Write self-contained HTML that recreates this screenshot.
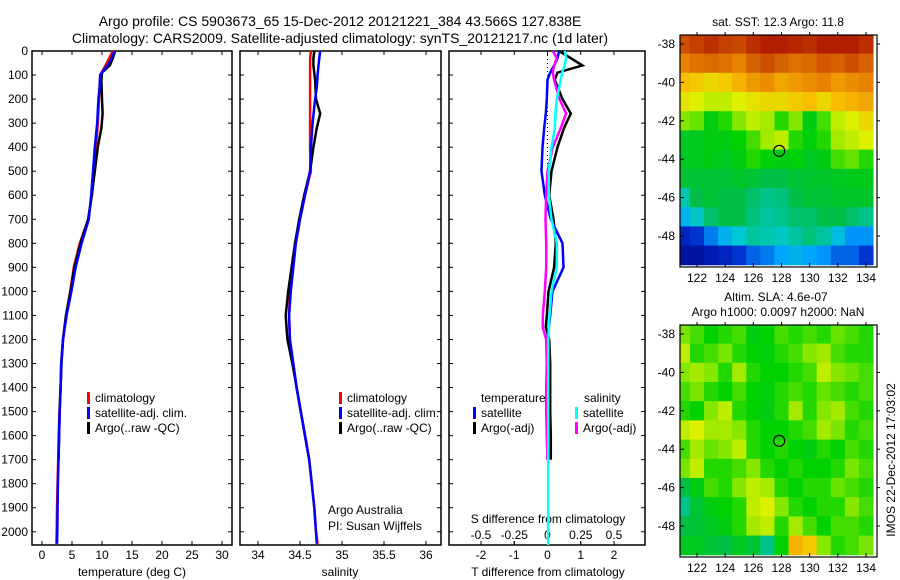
<!DOCTYPE html>
<html><head><meta charset="utf-8"><style>
body{margin:0;background:#fff;}
svg{display:block;font-family:"Liberation Sans",sans-serif;}
</style></head><body>
<svg id="fig" width="900" height="580" xmlns="http://www.w3.org/2000/svg">
<text x="340" y="26" font-size="14" text-anchor="middle">Argo profile: CS 5903673_65 15-Dec-2012 20121221_384 43.566S 127.838E</text>
<text x="340" y="43" font-size="14" text-anchor="middle">Climatology: CARS2009. Satellite-adjusted climatology: synTS_20121217.nc (1d later)</text>
<g id="g"></g>
</svg>
<script>
// ---- data ----
const depthsT = [0,30,60,100,150,200,300,400,500,600,700,800,900,1000,1100,1200,1300,1400,1500,1600,1700,1800,1900,2000,2050];
const tempClim = [11.8,11.2,10.6,9.7,9.6,9.5,9.3,9.0,8.7,8.3,7.7,6.3,5.3,4.7,4.0,3.5,3.2,3.1,2.9,2.8,2.7,2.6,2.5,2.45,2.4];
const tempSat  = [12.1,11.6,10.9,9.7,9.6,9.4,9.2,8.8,8.5,8.2,7.8,6.6,5.6,4.9,4.1,3.5,3.2,3.1,2.95,2.85,2.75,2.65,2.6,2.55,2.5];
const depthsA = [0,30,60,90,120,200,260,320,400,500,600,700,800,900,1000,1100,1200,1300,1400,1500,1600,1700];
const tempArgo = [12.2,11.8,11.3,10.0,9.9,10.0,10.1,9.9,9.3,8.8,8.3,7.7,6.4,5.4,4.75,4.0,3.5,3.25,3.1,2.95,2.85,2.75];
const salClim = [34.63,34.62,34.62,34.62,34.62,34.62,34.62,34.62,34.63,34.56,34.5,34.45,34.42,34.38,34.37,34.38,34.42,34.46,34.51,34.56,34.61,34.64,34.67,34.69,34.71];
const salSat  = [34.74,34.73,34.72,34.71,34.70,34.68,34.65,34.63,34.62,34.56,34.5,34.45,34.42,34.39,34.37,34.38,34.42,34.46,34.51,34.56,34.61,34.64,34.67,34.69,34.7];
const salArgo = [34.67,34.66,34.66,34.67,34.68,34.69,34.74,34.70,34.66,34.62,34.55,34.49,34.44,34.40,34.36,34.33,34.35,34.41,34.46,34.51,34.56,34.61];
const depthsD = [0,30,60,90,120,200,260,320,400,500,600,700,800,900,1000,1100,1150,1200,1300,1400,1500,1600,1700];
const tdiffSat  = [0.35,0.3,0.2,0.08,0,-0.02,-0.05,-0.1,-0.15,-0.18,-0.08,0.1,0.45,0.48,0.15,0.08,0.04,0,0,0,0,0,0];
const tdiffArgo = [0.35,0.7,1.05,0.3,0.22,0.45,0.7,0.5,0.3,0.12,0.05,0.18,0.25,0.2,0.03,-0.02,-0.05,0.05,0.08,0.08,0.08,0.1,0.1];
const sdiffSat  = [0.13,0.14,0.13,0.11,0.1,0.07,0.06,0.055,0.03,0.01,0.01,0.03,0.07,0.07,0.03,0.015,0.01,0.005,0.005,0.005,0.005,0.005,0.005];
const sdiffArgo = [0.04,0.07,0.05,0.04,0.05,0.09,0.14,0.1,0.04,0,-0.01,-0.015,-0.01,-0.01,-0.02,-0.035,-0.035,-0.01,-0.005,-0.01,-0.01,-0.005,0];
const depthTicks = [0,100,200,300,400,500,600,700,800,900,1000,1100,1200,1300,1400,1500,1600,1700,1800,1900,2000];
const tempTicks = [0,5,10,15,20,25,30];
const salTicks = [34,34.5,35,35.5,36];
const salTickLabels = ["34","34.5","35","35.5","36"];
const tdTicks = [-2,-1,0,1,2];
const sdTicks = [-0.5,-0.25,0,0.25,0.5];
const sdTickLabels = ["-0.5","-0.25","0","0.25","0.5"];
const lonTicks = [122,124,126,128,130,132,134];
const latTicks = [-38,-40,-42,-44,-46,-48];
// SST field (rows from -38 to -49, cols 121..134), colour index 0..1
const sstGrid = [
[.86,.88,.9,.88,.87,.9,.92,.93,.91,.9,.93,.94,.93,.9],
[.8,.82,.83,.82,.8,.84,.86,.84,.82,.83,.85,.84,.86,.84],
[.7,.68,.66,.68,.72,.76,.78,.74,.76,.78,.8,.76,.78,.8],
[.64,.62,.6,.6,.62,.64,.66,.66,.68,.7,.66,.7,.72,.74],
[.56,.54,.46,.5,.56,.6,.58,.5,.56,.46,.52,.6,.62,.66],
[.44,.44,.46,.46,.48,.52,.58,.6,.5,.47,.5,.58,.6,.62],
[.44,.44,.46,.44,.46,.5,.47,.46,.47,.44,.46,.52,.54,.5],
[.42,.42,.42,.42,.43,.42,.4,.4,.42,.43,.43,.44,.45,.45],
[.34,.4,.42,.4,.4,.38,.36,.37,.4,.42,.42,.43,.43,.43],
[.28,.33,.38,.4,.4,.37,.35,.36,.38,.38,.4,.4,.38,.36],
[.14,.16,.22,.28,.32,.35,.34,.33,.35,.37,.35,.3,.24,.24],
[.1,.1,.12,.14,.16,.2,.22,.26,.28,.26,.24,.2,.2,.16]];
// SLA field
const slaGrid = [
[.55,.52,.48,.5,.52,.46,.48,.52,.5,.52,.5,.54,.52,.5],
[.6,.5,.52,.55,.5,.48,.47,.5,.52,.56,.58,.52,.5,.5],
[.56,.58,.56,.5,.58,.5,.48,.48,.5,.52,.6,.56,.54,.52],
[.52,.55,.5,.48,.52,.48,.47,.5,.52,.5,.54,.52,.5,.52],
[.5,.48,.56,.6,.5,.48,.46,.5,.58,.5,.56,.58,.52,.5],
[.6,.62,.58,.58,.56,.5,.48,.48,.5,.52,.58,.55,.5,.52],
[.52,.58,.54,.56,.6,.5,.48,.5,.48,.46,.5,.48,.52,.5],
[.55,.6,.5,.5,.52,.56,.5,.48,.5,.48,.48,.5,.55,.52],
[.4,.46,.52,.5,.56,.6,.58,.5,.48,.5,.5,.54,.52,.5],
[.36,.42,.46,.48,.5,.6,.62,.56,.5,.48,.5,.5,.56,.52],
[.4,.42,.44,.46,.5,.58,.6,.5,.58,.52,.48,.52,.52,.5],
[.44,.44,.42,.4,.44,.42,.36,.48,.72,.68,.56,.5,.52,.55]];

// ---- helpers ----
const NS="http://www.w3.org/2000/svg";
const G=document.getElementById('g');
function mk(tag,attrs,parent){const e=document.createElementNS(NS,tag);for(const k in attrs)e.setAttribute(k,attrs[k]);(parent||G).appendChild(e);return e;}
function txt(x,y,s,anchor,size){const t=mk('text',{x:x,y:y,'font-size':size||12,'text-anchor':anchor||'middle'});t.textContent=s;return t;}
const Y0=51,Y1=545,DMAX=2055;
const yD=d=>Y0+(d/DMAX)*(Y1-Y0);
function lin(d0,d1,p0,p1){return v=>p0+(v-d0)*(p1-p0)/(d1-d0);}

function panel(x0,x1,name){
  const r=mk('rect',{x:x0,y:Y0,width:x1-x0,height:Y1-Y0,fill:'none',stroke:'#000','stroke-width':1.5});
  
  
  depthTicks.forEach(d=>{mk('line',{x1:x0,x2:x0+4,y1:yD(d),y2:yD(d),stroke:'#000'});mk('line',{x1:x1,x2:x1-4,y1:yD(d),y2:yD(d),stroke:'#000'});});
}
function xticks(x0,x1,ticks,labels,fx,y,name){
  ticks.forEach((t,i)=>{const X=fx(t);mk('line',{x1:X,x2:X,y1:Y1,y2:Y1-4,stroke:'#000'});mk('line',{x1:X,x2:X,y1:Y0,y2:Y0+4,stroke:'#000'});
    const e=txt(X,y,labels[i]);
    
    });
}
function line(xs,ds,fx,color,name,w){
  const p=xs.map((v,i)=>fx(v).toFixed(1)+','+yD(ds[i]).toFixed(1)).join(' ');
  const e=mk('polyline',{points:p,fill:'none',stroke:color,'stroke-width':w||2.5});
  
  
}
function legend(x,y,color,label,name){
  mk('rect',{x:x,y:y-10,width:3,height:12,fill:color});
  const e=txt(x+8,y,label,'start');
  
  
}

// ---- Panel 1 temperature ----
const fT=lin(0,30,42,222);
panel(32,232,'temperature-panel');
depthTicks.forEach(d=>{const e=txt(28,yD(d)+4,String(d),'end');
  
  });
xticks(32,232,tempTicks,tempTicks.map(String),fT,559,'temp-tick-label');
{const e=txt(132,576,'temperature (deg C)');}
line(tempClim,depthsT,fT,'#f00','temp-climatology-line');
line(tempArgo,depthsA,fT,'#000','temp-argo-line');
line(tempSat,depthsT,fT,'#00f','temp-satellite-line');
legend(87,402,'#f00','climatology','legend-climatology');
legend(87,417,'#00f','satellite-adj. clim.','legend-satellite');
legend(87,432,'#000','Argo(..raw -QC)','legend-argo');

// ---- Panel 2 salinity ----
const fS=lin(34,36,258,426);
panel(240,441,'salinity-panel');
xticks(240,441,salTicks,salTickLabels,fS,559,'salinity-tick-label');
{const e=txt(340,576,'salinity');}
line(salClim,depthsT,fS,'#f00','sal-climatology-line');
line(salArgo,depthsA,fS,'#000','sal-argo-line');
line(salSat,depthsT,fS,'#00f','sal-satellite-line');
legend(339,402,'#f00','climatology','legend-sal-climatology');
legend(339,417,'#00f','satellite-adj. clim.','legend-sal-satellite');
legend(339,432,'#000','Argo(..raw -QC)','legend-sal-argo');
{const e=txt(328,514,'Argo Australia','start');}
{const e=txt(328,530,'PI: Susan Wijffels','start');}

// ---- Panel 3 differences ----
const fTD=lin(-2,2,481,614);
const fSD=lin(-0.5,0.5,481,614);
panel(449,645,'difference-panel');
xticks(449,645,tdTicks,tdTicks.map(String),fTD,559,'tdiff-tick-label');
sdTicks.forEach((t,i)=>{const X=fSD(t);mk('line',{x1:X,x2:X,y1:Y1,y2:Y1-4,stroke:'#000'});
  const e=txt(X,539,sdTickLabels[i]);});
{const e=txt(548,523,'S difference from climatology');}
{const e=txt(548,576,'T difference from climatology');}
mk('line',{x1:fTD(0),x2:fTD(0),y1:Y0,y2:yD(500),stroke:'#000','stroke-dasharray':'1,3'});
line(tdiffArgo,depthsD,fTD,'#000','tdiff-argo-line');
line(tdiffSat,depthsD,fTD,'#00f','tdiff-satellite-line');
line(sdiffArgo,depthsD,fSD,'#f0f','sdiff-argo-line');
line(sdiffSat.concat([0.005,0.005,0.005]),depthsD.concat([1800,1900,2055]),fSD,'#0ff','sdiff-satellite-line');
{const e=txt(481,402,'temperature','start');}
{const e=txt(584,402,'salinity','start');}
legend(473,417,'#00f','satellite','legend-t-satellite');
legend(473,432,'#000','Argo(-adj)','legend-t-argo');
legend(575,417,'#0ff','satellite','legend-s-satellite');
legend(575,432,'#f0f','Argo(-adj)','legend-s-argo');

// ---- Maps ----
const cmapStops=[[0.05,[0,0,120]],[0.15,[0,40,200]],[0.25,[0,160,255]],[0.32,[0,200,210]],[0.4,[0,190,70]],[0.48,[0,210,0]],[0.55,[120,230,0]],[0.62,[220,240,0]],[0.7,[250,190,0]],[0.8,[230,130,0]],[0.92,[180,30,0]]];
function cmap(v){for(let i=1;i<cmapStops.length;i++){if(v<=cmapStops[i][0]){const a=cmapStops[i-1],b=cmapStops[i];const t=Math.max(0,(v-a[0])/(b[0]-a[0]));return 'rgb('+a[1].map((c,k)=>Math.round(c+(b[1][k]-c)*t)).join(',')+')';}}return 'rgb(180,30,0)';}
function map(top,grid,name){
  const x0=680,x1=877,y0=top,y1=top+232;
  const fLon=lin(122,134,697,866), fLat=lin(-38,-48,y0+9,y0+201);
  const g=mk('g',{});
  
  
  grid.forEach((row,r)=>row.forEach((v,c)=>{
    const lon=121+c-0.5, lat=-37.5-r;
    const X=Math.max(x0,fLon(lon)), X2=Math.min(x1,fLon(lon+1));
    const Yt=Math.max(y0,fLat(lat)), Yb=Math.min(y1,fLat(lat-1));
    const cell=mk('rect',{x:X,y:Yt,width:X2-X+0.5,height:Yb-Yt+0.5,fill:cmap(v)},g);
    
    
  }));
  mk('rect',{x:x0,y:y0,width:x1-x0,height:y1-y0,fill:'none',stroke:'#000','stroke-width':1.2});
  lonTicks.forEach(l=>{const X=fLon(l);mk('line',{x1:X,x2:X,y1:y1,y2:y1-4,stroke:'#000'});mk('line',{x1:X,x2:X,y1:y0,y2:y0-3,stroke:'#000'});
    const e=txt(X,y1+15,String(l));});
  latTicks.forEach(l=>{const Y=fLat(l);mk('line',{x1:x0,x2:x0+4,y1:Y,y2:Y,stroke:'#000'});mk('line',{x1:x1,x2:x1+3,y1:Y,y2:Y,stroke:'#000'});
    const e=txt(675,Y+4,String(l),'end');});
  const c=mk('circle',{cx:fLon(127.838),cy:fLat(-43.566),r:5.5,fill:'none',stroke:'#000','stroke-width':1.2});
  
  
}
map(35,sstGrid,'sst-map');
{const e=txt(778,26,'sat. SST: 12.3 Argo: 11.8');}
map(325,slaGrid,'sla-map');
{const e=txt(776,301,'Altim. SLA: 4.6e-07');}
{const e=txt(778,316,'Argo h1000: 0.0097 h2000: NaN');}
{const e=txt(0,0,'IMOS 22-Dec-2012 17:03:02');e.setAttribute('transform','translate(895,460) rotate(-90)');}
</script>
</body></html>
